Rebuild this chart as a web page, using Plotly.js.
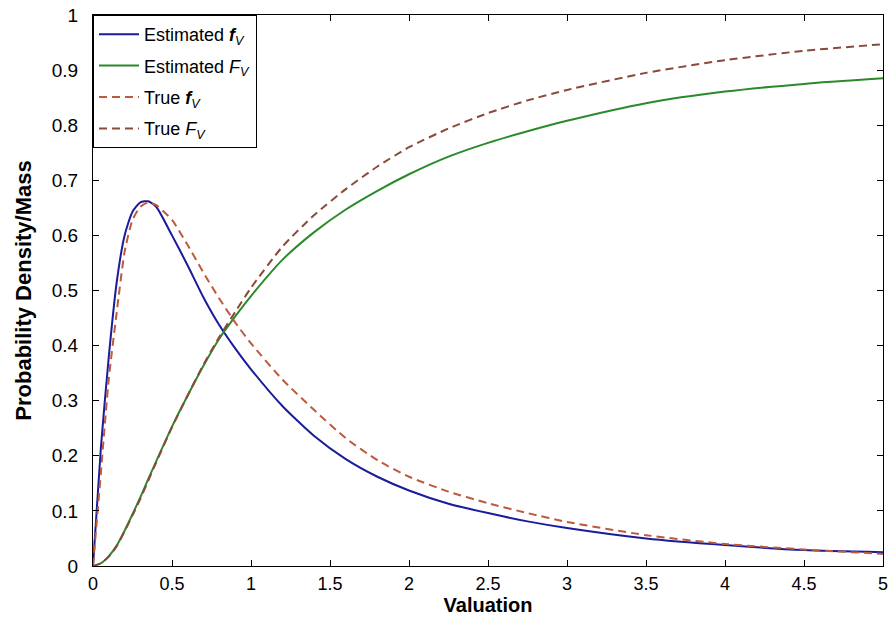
<!DOCTYPE html>
<html>
<head>
<meta charset="utf-8">
<script src="https://cdn.plot.ly/plotly-3.0.1.min.js"></script>
<style>html,body{margin:0;padding:0;background:#fff;}#chart{width:889px;height:617px;}</style>
</head>
<body>
<div id="chart"></div>
<script>
// Valuation grid
const xVals = [0, 0.05, 0.1, 0.15, 0.2, 0.25, 0.3, 0.35, 0.4, 0.5, 0.6, 0.7, 0.8, 0.9, 1.0, 1.2, 1.4, 1.6, 1.8, 2.0, 2.25, 2.5, 2.75, 3.0, 3.5, 4.0, 4.5, 5.0];
// Estimated pdf f_V
const estPdf = [0, 0.215, 0.38, 0.515, 0.6, 0.643, 0.66, 0.662, 0.652, 0.60, 0.545, 0.487, 0.437, 0.395, 0.357, 0.29, 0.236, 0.194, 0.162, 0.137, 0.113, 0.096, 0.081, 0.069, 0.050, 0.038, 0.029, 0.025];
// Estimated CDF F_V
const estCdf = [0, 0.005, 0.018, 0.037, 0.064, 0.094, 0.125, 0.158, 0.19, 0.253, 0.31, 0.364, 0.413, 0.453, 0.49, 0.556, 0.606, 0.647, 0.681, 0.711, 0.743, 0.768, 0.789, 0.808, 0.840, 0.861, 0.875, 0.885];
// True pdf f_V
const truePdf = [0, 0.17, 0.34, 0.46, 0.57, 0.628, 0.652, 0.66, 0.655, 0.628, 0.582, 0.532, 0.485, 0.442, 0.404, 0.338, 0.283, 0.232, 0.192, 0.162, 0.135, 0.114, 0.096, 0.080, 0.056, 0.040, 0.030, 0.022];
// True CDF F_V
const trueCdf = [0, 0.005, 0.017, 0.036, 0.063, 0.092, 0.122, 0.155, 0.188, 0.252, 0.31, 0.366, 0.416, 0.461, 0.505, 0.58, 0.637, 0.684, 0.725, 0.76, 0.794, 0.822, 0.845, 0.864, 0.895, 0.918, 0.935, 0.947];
const yTicks = [0, 0.1, 0.2, 0.3, 0.4, 0.5, 0.6, 0.7, 0.8, 0.9, 1];
const xTicks = [0, 0.5, 1, 1.5, 2, 2.5, 3, 3.5, 4, 4.5, 5];
const seriesNames = ['Estimated <b><i>f</i></b><sub><i>V</i></sub>', 'Estimated <i>F</i><sub><i>V</i></sub>', 'True <b><i>f</i></b><sub><i>V</i></sub>', 'True <i>F</i><sub><i>V</i></sub>'];

const traces = [
  {x: xVals, y: estPdf, name: seriesNames[0], legendgroup: 'g1', mode: 'lines', line: {color: '#1b1b9c', width: 2, shape: 'spline', smoothing: 0.6}},
  {x: xVals, y: estCdf, name: seriesNames[1], legendgroup: 'g2', mode: 'lines', line: {color: '#2a8a2a', width: 2, shape: 'spline', smoothing: 0.6}},
  {x: xVals, y: truePdf, name: seriesNames[2], legendgroup: 'g3', mode: 'lines', line: {color: '#bb5a3c', width: 2, dash: '8px,5px', shape: 'spline', smoothing: 0.6}},
  {x: xVals, y: trueCdf, name: seriesNames[3], legendgroup: 'g4', mode: 'lines', line: {color: '#8a4a3a', width: 2, dash: '8px,5px', shape: 'spline', smoothing: 0.6}}
];

const font = {family: '"Liberation Sans", Arial, sans-serif', color: '#000'};
const layout = {
  width: 889, height: 617,
  margin: {l: 93, r: 6, t: 15, b: 51},
  paper_bgcolor: '#fff', plot_bgcolor: '#fff',
  font: Object.assign({size: 18}, font),
  showlegend: true,
  legend: {x: 0, y: 1, xanchor: 'left', yanchor: 'top', bgcolor: '#fff', bordercolor: '#000', borderwidth: 1,
           font: Object.assign({size: 18}, font), itemwidth: 40, tracegroupgap: 5},
  xaxis: {
    range: [0, 5], tickvals: xTicks, ticktext: xTicks.map(String),
    showline: true, linecolor: '#000', linewidth: 1, mirror: 'ticks',
    ticks: 'inside', ticklen: 6, tickcolor: '#000', showgrid: false, zeroline: false,
    tickfont: Object.assign({size: 18}, font), ticklabelstandoff: 1,
    title: {text: '<b>Valuation</b>', font: Object.assign({size: 20}, font), standoff: 3}
  },
  yaxis: {
    range: [0, 1], tickvals: yTicks, ticktext: yTicks.map(String),
    showline: true, linecolor: '#000', linewidth: 1, mirror: 'ticks',
    ticks: 'inside', ticklen: 6, tickcolor: '#000', showgrid: false, zeroline: false,
    tickfont: Object.assign({size: 19}, font), ticklabelstandoff: 10,
    title: {text: '<b>Probability Density/Mass</b>', font: Object.assign({size: 22}, font), standoff: 14}
  }
};
Plotly.newPlot('chart', traces, layout, {staticPlot: true, displayModeBar: false});
</script>
</body>
</html>
